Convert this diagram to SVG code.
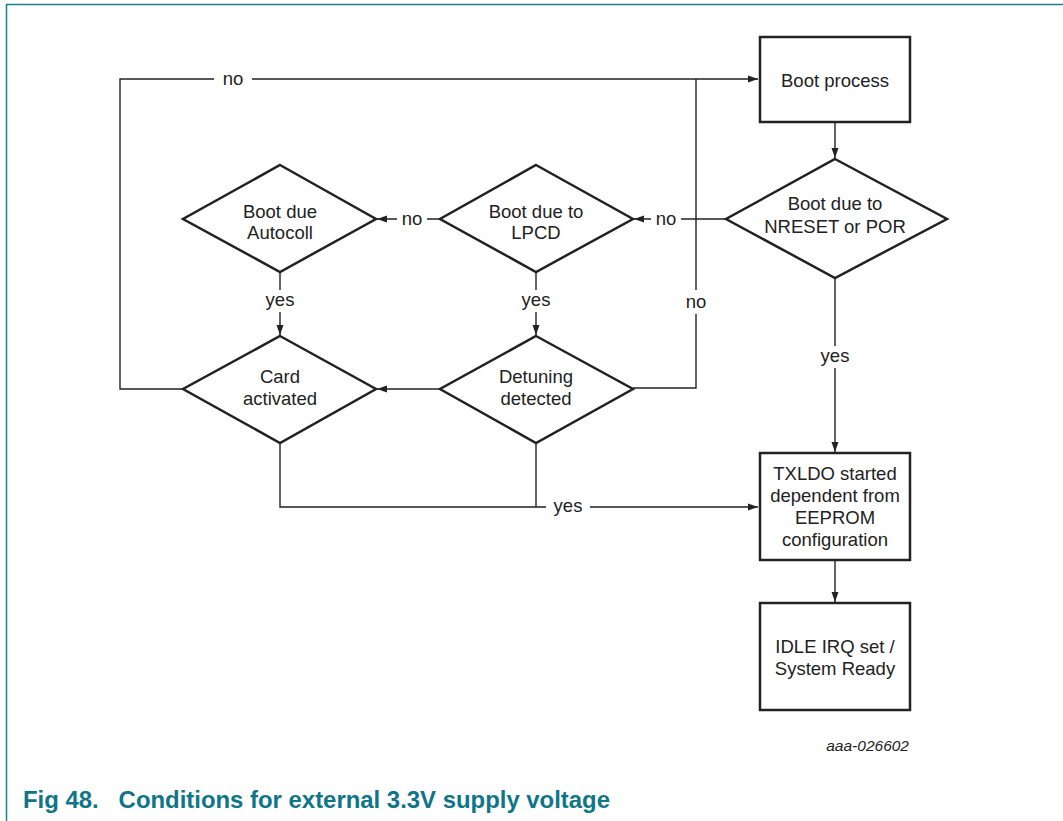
<svg xmlns="http://www.w3.org/2000/svg" width="1063" height="821" viewBox="0 0 1063 821">
<defs>
<style>
.box{fill:#fff;stroke:#222;stroke-width:2.5}
.ln{fill:none;stroke:#222;stroke-width:1.4}
.t{font-family:"Liberation Sans",Arial,sans-serif;font-size:18.5px;fill:#222;text-anchor:middle}
.bg{fill:#fff}
</style>
<marker id="arr" viewBox="0 0 10 10" refX="10" refY="5" markerWidth="10" markerHeight="10" orient="auto" markerUnits="userSpaceOnUse">
<path d="M0,1.5 L10,5 L0,8.5 z" fill="#222"/>
</marker>
</defs>
<rect width="1063" height="821" fill="#fff"/>
<path d="M6.5,821 V4.5 H1063" fill="none" stroke="#1b7f8e" stroke-width="1.5"/>

<g id="connectors">
<path class="ln" d="M183,389 H120 V79 H758" marker-end="url(#arr)"/>
<path class="ln" d="M633,388 H696 V79"/>
<path class="ln" d="M835,122 V158" marker-end="url(#arr)"/>
<path class="ln" d="M726,219 H634" marker-end="url(#arr)"/>
<path class="ln" d="M440,219 H377" marker-end="url(#arr)"/>
<path class="ln" d="M280,272 V335" marker-end="url(#arr)"/>
<path class="ln" d="M536,272 V335" marker-end="url(#arr)"/>
<path class="ln" d="M440,389 H377" marker-end="url(#arr)"/>
<path class="ln" d="M835,278 V452" marker-end="url(#arr)"/>
<path class="ln" d="M280,443 V507 H758" marker-end="url(#arr)"/>
<path class="ln" d="M536,443 V507"/>
<path class="ln" d="M835,560 V602" marker-end="url(#arr)"/>
<rect class="bg" x="214" y="70" width="38" height="18"/>
<text class="t" x="233" y="85">no</text>
<rect class="bg" x="397" y="210" width="30" height="18"/>
<text class="t" x="412" y="225">no</text>
<rect class="bg" x="651" y="210" width="30" height="18"/>
<text class="t" x="666" y="225">no</text>
<rect class="bg" x="684" y="290" width="24" height="24"/>
<text class="t" x="696" y="308">no</text>
<rect class="bg" x="265" y="290" width="30" height="22"/>
<text class="t" x="280" y="306">yes</text>
<rect class="bg" x="521" y="290" width="30" height="22"/>
<text class="t" x="536" y="306">yes</text>
<rect class="bg" x="820" y="346" width="30" height="22"/>
<text class="t" x="835" y="362">yes</text>
<rect class="bg" x="546" y="496" width="44" height="22"/>
<text class="t" x="568" y="512">yes</text>
</g>

<g id="boot-process">
<rect class="box" x="760" y="37" width="150" height="85"/>
<text class="t" x="835" y="86.5">Boot process</text>
</g>
<g id="boot-nreset">
<polygon class="box" points="835,159 947,219 835,278 726,219"/>
<text class="t" x="835" y="210">Boot due to</text>
<text class="t" x="835" y="233">NRESET or POR</text>
</g>
<g id="boot-lpcd">
<polygon class="box" points="536,165 633,219 536,272 440,219"/>
<text class="t" x="536" y="217.5">Boot due to</text>
<text class="t" x="536" y="238.5">LPCD</text>
</g>
<g id="boot-autocoll">
<polygon class="box" points="280,165 376,219 280,272 183,219"/>
<text class="t" x="280" y="217.5">Boot due</text>
<text class="t" x="280" y="238.5">Autocoll</text>
</g>
<g id="card-activated">
<polygon class="box" points="280,336 376,389 280,443 183,389"/>
<text class="t" x="280" y="383">Card</text>
<text class="t" x="280" y="405">activated</text>
</g>
<g id="detuning-detected">
<polygon class="box" points="536,336 633,389 536,443 440,389"/>
<text class="t" x="536" y="383">Detuning</text>
<text class="t" x="536" y="405">detected</text>
</g>
<g id="txldo">
<rect class="box" x="760" y="453" width="150" height="107"/>
<text class="t" x="835" y="479.5">TXLDO started</text>
<text class="t" x="835" y="501.5">dependent from</text>
<text class="t" x="835" y="523.5">EEPROM</text>
<text class="t" x="835" y="545.5">configuration</text>
</g>
<g id="idle">
<rect class="box" x="760" y="603" width="150" height="107"/>
<text class="t" x="835" y="653">IDLE IRQ set /</text>
<text class="t" x="835" y="675">System Ready</text>
</g>

<text x="909" y="751" font-family="Liberation Sans,Arial,sans-serif" font-size="15.5" font-style="italic" fill="#222" text-anchor="end">aaa-026602</text>
<text x="23" y="808" font-family="Liberation Sans,Arial,sans-serif" font-size="24" font-weight="bold" fill="#0f7589" textLength="587" lengthAdjust="spacingAndGlyphs" xml:space="preserve">Fig 48.   Conditions for external 3.3V supply voltage</text>
</svg>
